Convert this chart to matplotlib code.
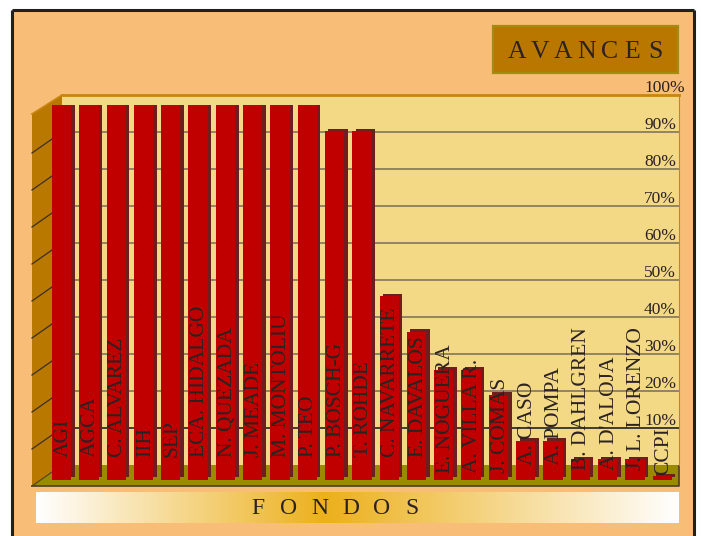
import numpy as np
import matplotlib.pyplot as plt
from matplotlib.patches import Rectangle, Polygon
from matplotlib.colors import LinearSegmentedColormap
from matplotlib.transforms import blended_transform_factory, ScaledTranslation

# ------------------------------------------------------------
# data
# ------------------------------------------------------------
fondos = [
    "AGI", "AGCA", "C. ALVAREZ", "IIH", "SEP", "ECA. HIDALGO", "N. QUEZADA",
    "J. MEADE", "M. MONTOLIU", "P. TEO", "P. BOSCH-G", "T. ROHDE",
    "C. NAVARRETE", "E. DAVALOS", "E. NOGUERA", "A. VILLA R.", "J. COMAS",
    "A. CASO", "A. POMPA", "B. DAHLGREN", "A. D'ALOJA", "J. L. LORENZO", "CCPI",
]
avance = [
    100, 100, 100, 100, 100, 100, 100, 100, 100, 100, 93, 93,
    49, 39.5, 29.3, 29.3, 22.7, 10.5, 10.5, 5.5, 5.5, 5.5, 1,
]
grid_vals = [10, 20, 30, 40, 50, 60, 70, 80, 90]
tick_vals = [10, 20, 30, 40, 50, 60, 70, 80, 90, 100]

# where each bar label starts (in % of the bar axis)
label_base = [6.1] * 14 + [1.9, 1.9, 1.9, 4.0, 4.0, 2.8, 2.8, 2.8, 1.3]

# ------------------------------------------------------------
# styles
# ------------------------------------------------------------
W, H = 701, 536
SERIF = ["Liberation Serif", "DejaVu Serif"]
BG = "#F8BD77"
WALL = "#F3D985"
SIDE = "#B97800"
FLOOR = "#9A8A00"
EDGE = "#C8860E"
RED = "#C00000"
DARK_RED = "#6E1E1E"
GRID = "#80765A"
INK = "#2B2222"

fig = plt.figure(figsize=(W / 100, H / 100), dpi=100)
fig.patch.set_facecolor("white")

# background axes in pixel units
bg = fig.add_axes([0, 0, 1, 1])
bg.set_xlim(0, W)
bg.set_ylim(H, 0)
bg.axis("off")

# frame (open at the bottom, it runs off the picture)
bg.add_patch(Rectangle((12, 10), 682, H - 10, facecolor=BG, edgecolor="none"))
bg.vlines([12, 694], 10, H, color="#231f20", lw=2.2)
bg.hlines(10, 12, 694, color="#231f20", lw=2.2)

# side wall and floor
bg.add_patch(Polygon([(32, 486), (32, 114), (62, 95), (62, 465)], closed=True,
                     facecolor=SIDE, edgecolor="none"))
bg.plot([32, 62], [114, 95], color=EDGE, lw=1.2)
bg.add_patch(Polygon([(32, 486), (62, 465), (679, 465), (679, 486)], closed=True,
                     facecolor=FLOOR, edgecolor="none"))
bg.plot([32, 679, 679], [486, 486, 465], color="#4a4020", lw=1.2)
bg.plot([32, 62], [486, 465], color="#4a4020", lw=0.8)

# FONDOS banner
cmap = LinearSegmentedColormap.from_list(
    "band", [(0, "#FFFFFF"), (0.45, "#ECB01C"), (1, "#FFFFFF")])
bg.imshow(np.linspace(0, 1, 256)[None, :], cmap=cmap, aspect="auto",
          extent=(36, 679, 523, 492), zorder=2)
for k, ch in enumerate("FONDOS"):
    bg.text(258 + 30.8 * k, 508, ch, ha="center", va="center", fontsize=17,
            family=SERIF, color=INK, zorder=3)

# AVANCES box
bg.add_patch(Rectangle((493, 26), 185, 47, facecolor="#B97700",
                       edgecolor="#A48B12", lw=1.6, zorder=2))
for k, ch in enumerate("AVANCES"):
    bg.text(517 + 23.05 * k, 51.5, ch, ha="center", va="center", fontsize=18.5,
            family=SERIF, color=INK, zorder=3)

# ------------------------------------------------------------
# back wall with gridlines
# ------------------------------------------------------------
back = fig.add_axes([62 / W, (H - 465) / H, 617 / W, 370 / H])
back.set_xlim(0, 1)
back.set_ylim(0, 100)
back.set_facecolor(WALL)
back.set_xticks([])
back.set_yticks([])
for s in ["left", "bottom"]:
    back.spines[s].set_visible(False)
back.spines["top"].set_color(EDGE)
back.spines["top"].set_linewidth(2)
back.spines["right"].set_color(EDGE)
back.spines["right"].set_linewidth(0.8)

blend = blended_transform_factory(back.transAxes, back.transData)
px_per_pct = 370 / 100
for v in grid_vals:
    c = "#222222" if v == 10 else GRID
    back.plot([0, 1], [v, v], transform=blend, color=c, lw=1.2)
    # continuation on the side wall
    back.plot([-30 / 617, 0], [v - 21 / px_per_pct, v], transform=blend,
              color="#3a3020", lw=0.9, clip_on=False)

for v in tick_vals:
    x = 1 + 6 / 617 if v == 100 else 1 - 3 / 617
    back.text(x, v + 3 / px_per_pct, f"{v}%", transform=blend, ha="right",
              va="baseline", fontsize=12.5, family=SERIF, color=INK,
              clip_on=False)

# ------------------------------------------------------------
# bars
# ------------------------------------------------------------
ax = fig.add_axes([32 / W, (H - 480) / H, 647 / W, 375 / H])
ax.set_xlim(-1.086, 22.614)
ax.set_ylim(0, 100)
ax.axis("off")
ax.patch.set_visible(False)

x = np.arange(len(fondos))
shift = ScaledTranslation(3.5 / 100, 2.7 / 100, fig.dpi_scale_trans)
ax.bar(x, avance, width=0.707, color=DARK_RED, transform=ax.transData + shift,
       zorder=1)
ax.bar(x, avance, width=0.707, color=RED, zorder=2)

for xi, name, b in zip(x, fondos, label_base):
    ax.text(xi + 0.06, b, name, rotation=90, ha="center", va="bottom",
            fontsize=15.5, family=SERIF, color=INK, zorder=3, clip_on=False)

plt.savefig("out.png", dpi=100)
